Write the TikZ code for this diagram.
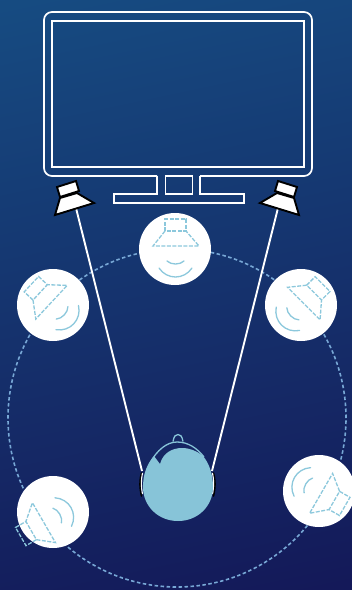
\documentclass[tikz,border=0pt]{standalone}
\usepackage{tikz}
\usepackage{xcolor}
\usetikzlibrary{calc,positioning}
\definecolor{bgTop}{RGB}{22,76,130}
\definecolor{bgMiddle}{RGB}{25,44,108}
\definecolor{bgBottom}{RGB}{20,24,88}
\definecolor{headBlue}{RGB}{135,196,216}
\definecolor{iconBlue}{RGB}{140,200,220}
\definecolor{ringBlue}{RGB}{120,168,214}
\tikzset{
  tvline/.style={draw=white,line width=1.7pt,line join=miter},
  speakerbox/.style={draw=black,fill=white,line width=1.9pt,line join=miter},
  beamline/.style={draw=white,line width=1.9pt},
  disc/.style={circle,fill=white,inner sep=0pt,minimum size=72pt},
  ringline/.style={circle,draw=ringBlue,line width=1.6pt,dash pattern=on 3.5pt off 2.5pt,inner sep=0pt,minimum size=338pt},
  icondash/.style={draw=iconBlue,line width=1.3pt,dash pattern=on 4pt off 1.5pt},
  iconwave/.style={draw=iconBlue,line width=1.3pt,line cap=round}
}
\newcommand{\DashedSpeaker}[2]{%
\begin{scope}[shift={(#1)},rotate=#2]
  \draw[icondash] (-10,-18) -- (-10,-30) -- (11,-30) -- (11,-18) -- cycle;
  \draw[icondash] (-10,-18) -- (-22,-3) -- (24,-3) -- (11,-18);
  \draw[iconwave] (-8,12) .. controls (-4,16) and (5,16) .. (9,12);
  \draw[iconwave] (-16,19) .. controls (-8,31) and (9,31) .. (17,19);
\end{scope}}

\begin{document}
\begin{tikzpicture}[x=1pt,y=-1pt]
\useasboundingbox (0,0) rectangle (352,590);
\shade[top color=bgTop,middle color=bgMiddle,bottom color=bgBottom,shading angle=12] (-60,-60) rectangle (412,650);
\clip (0,0) rectangle (352,590);

% screen and stand
\draw[tvline,rounded corners=8pt] (157,176) -- (44,176) -- (44,12) -- (312,12) -- (312,176) -- (200,176);
\draw[tvline] (157,176) -- (157,194) -- (114,194) -- (114,203) -- (244,203) -- (244,194) -- (200,194) -- (200,176);
\draw[tvline] (52,21) rectangle (304,167);
\draw[tvline] (165.5,176) rectangle (192.5,194);

% ring of positions
\node[ringline] (ring) at (177,418) {};

% beams
\coordinate (beamL) at (76,208);
\coordinate (beamR) at (278,208);
\coordinate (earL) at (142,471);
\coordinate (earR) at (212,471);
\draw[beamline] (beamL) -- (earL);
\draw[beamline] (beamR) -- (earR);

% front speakers
\draw[speakerbox] (57,187) -- (76,181) -- (79,191) -- (60,197) -- cycle;
\draw[speakerbox] (60,198) -- (77,193) -- (94,203) -- (55,215) -- cycle;
\draw[speakerbox] (297,187) -- (278,181) -- (275,191) -- (294,197) -- cycle;
\draw[speakerbox] (294,198) -- (277,193) -- (260,203) -- (299,215) -- cycle;

% discs
\node[disc] (discTop) at (175,249) {};
\node[disc] (discLeft) at (53,305) {};
\node[disc] (discRight) at (301,305) {};
\node[disc] (discRearL) at (53,512) {};
\node[disc] (discRearR) at (319,491) {};
\DashedSpeaker{175,249}{0}
\DashedSpeaker{53,305}{47}
\DashedSpeaker{301,305}{-45}
\DashedSpeaker{47,522}{120}
\DashedSpeaker{319,491}{-120}

% head
\draw[black,line width=1.6pt,line cap=round] (141.5,473) .. controls (139.5,480) and (139.5,487) .. (141.5,496);
\draw[black,line width=1.6pt,line cap=round] (213.5,473) .. controls (215.5,480) and (215.5,487) .. (213.5,496);
\draw[white,line width=1.1pt] (142.5,473) .. controls (141,480) and (141,487) .. (142.5,494);
\draw[white,line width=1.1pt] (212.5,473) .. controls (214,480) and (214,487) .. (212.5,494);
\fill[headBlue] (154,456) -- (160,464) .. controls (163,453) and (172,448) .. (182,448) .. controls (190,448) and (197,451) .. (203,456) .. controls (209,463) and (213,474) .. (213,487) .. controls (213,506) and (198,521) .. (178,521) .. controls (158,521) and (143,506) .. (143,487) .. controls (143,474) and (147,464) .. (154,456) -- cycle;
\draw[headBlue,line width=1.3pt] (150,463) .. controls (157,450) and (167,442) .. (177,442) .. controls (188,442) and (197,448) .. (204,457);
\draw[headBlue,line width=1.3pt] (173,441.5) .. controls (174,436) and (175.5,434.5) .. (178,434.5) .. controls (180.5,434.5) and (182,436) .. (183,441.5);
\end{tikzpicture}
\end{document}
